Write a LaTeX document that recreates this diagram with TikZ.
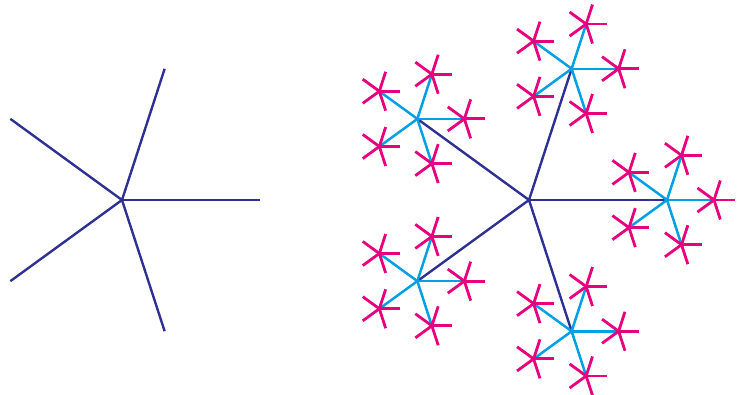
\documentclass[tikz,border=0pt]{standalone}
\definecolor{azulosc}{RGB}{46,49,146}
\definecolor{celeste}{RGB}{0,160,227}
\definecolor{rosa}{RGB}{230,0,126}
\tikzset{
  rama/.style={draw=azulosc, line width=2.4pt},
  ramita/.style={draw=celeste, line width=2.5pt},
  hoja/.style={draw=rosa, line width=2.8pt}
}
\begin{document}
\begin{tikzpicture}[x=1pt,y=-1pt]
        \useasboundingbox (0,0) rectangle (738,394);
        
        % Estrella simple
        \coordinate (sola) at (122,200);
        \foreach \i in {0,...,4} {
            \path (sola) ++(72*\i:138) coordinate (s\i);
            \draw[rama] (sola) -- (s\i);
        }
        
        % Estrella con dos niveles
        \coordinate (centro) at (529,200);
        \foreach \i in {0,...,4} {
            \path (centro) ++(72*\i:138) coordinate (t\i);
            \draw[rama] (centro) -- (t\i);
        }
        
        % Segundo nivel
        \foreach \i in {0,...,4} {
            \foreach \j in {0,...,4} {
                \path (t\i) ++(72*\j:47) coordinate (t\i\j);
                \draw[ramita] (t\i) -- (t\i\j);
            }
        }
        
        % Tercer nivel
        \foreach \i in {0,...,4} {
            \foreach \j in {0,...,4} {
                \foreach \k in {0,...,4} {
                    \path (t\i\j) ++(72*\k:20.5) coordinate (t\i\j\k);
                    \draw[hoja] (t\i\j) -- (t\i\j\k);
                }
            }
        }
\end{tikzpicture}
\end{document}
